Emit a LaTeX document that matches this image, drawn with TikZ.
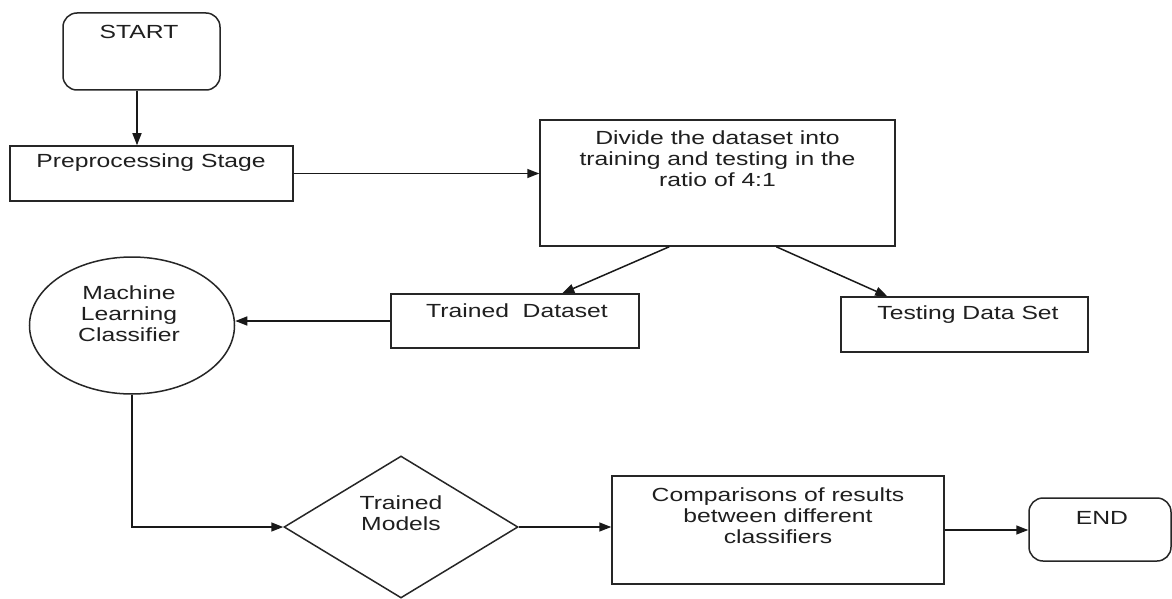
\documentclass[tikz,border=0pt]{standalone}
\usepackage{fontspec}
\setmainfont[FakeStretch=1.3]{Liberation Sans}
\usetikzlibrary{arrows.meta,shapes.geometric,calc}
\tikzset{
  shp/.style={draw=black!85, line width=1.5pt, fill=white, inner sep=0pt},
  boxn/.style={shp, rectangle},
  termn/.style={shp, rectangle, rounded corners=14pt},
  txt/.style={inner sep=0pt, align=center, text=black!88, font=\fontsize{19}{21}\selectfont},
  conn/.style={draw=black!90, line width=1.5pt, -{Triangle[length=12pt,width=9pt]}}
}
\begin{document}
\begin{tikzpicture}[x=1pt,y=-1pt]
\useasboundingbox[fill=white] (0,0) rectangle (1172,599);
% shapes
\node[termn, minimum width=157pt, minimum height=77pt] (start) at (141.5,51.5) {};
\node[boxn, minimum width=283pt, minimum height=55pt] (pre) at (151.5,173.5) {};
\node[boxn, minimum width=355pt, minimum height=126pt] (divide) at (717.5,183) {};
\node[boxn, minimum width=248pt, minimum height=54pt] (trained) at (515,321) {};
\node[boxn, minimum width=247pt, minimum height=55pt] (testing) at (964.5,324.5) {};
\node[shp, ellipse, minimum width=205pt, minimum height=137pt] (ml) at (132,325.5) {};
\node[shp, diamond, minimum width=234pt, minimum height=142pt] (tm) at (401,527) {};
\node[boxn, minimum width=332pt, minimum height=108pt] (comp) at (778,530) {};
\node[termn, minimum width=142pt, minimum height=63pt] (end) at (1100,529.5) {};
% texts
\node[txt] (startT) at (139,32) {START};
\node[txt] (preT) at (151,163) {Preprocessing Stage};
\node[txt] (divideT) at (717.5,159) {Divide the dataset into\\training and testing in the\\ratio of 4:1};
\node[txt] (trainedT) at (517,311) {Trained\ \ Dataset};
\node[txt] (testingT) at (968,315) {Testing Data Set};
\node[txt] (mlT) at (129,314) {Machine\\Learning\\Classifier};
\node[txt] (tmT) at (401,513) {Trained\\Models};
\node[txt] (compT) at (778,516) {Comparisons of results\\between different\\classifiers};
\node[txt] (endT) at (1102,518) {END};
% connectors
\draw[conn] ([xshift=-4.5pt]start.south) -- ([xshift=-4.5pt]start.south |- pre.north);
\draw[conn] (pre.east) -- (pre.east -| divide.west);
\draw[conn] ([xshift=130pt]divide.south west) -- ([xshift=172pt]trained.north west);
\draw[conn] ([xshift=237pt]divide.south west) -- ([xshift=47pt]testing.north west);
\draw[conn] (trained.west) -- (ml.east |- trained.west);
\draw[conn] (ml.south) |- (tm.west);
\draw[conn] (tm.east) -- (tm.east -| comp.west);
\draw[conn] (comp.east) -- (comp.east -| end.west);
\end{tikzpicture}
\end{document}
